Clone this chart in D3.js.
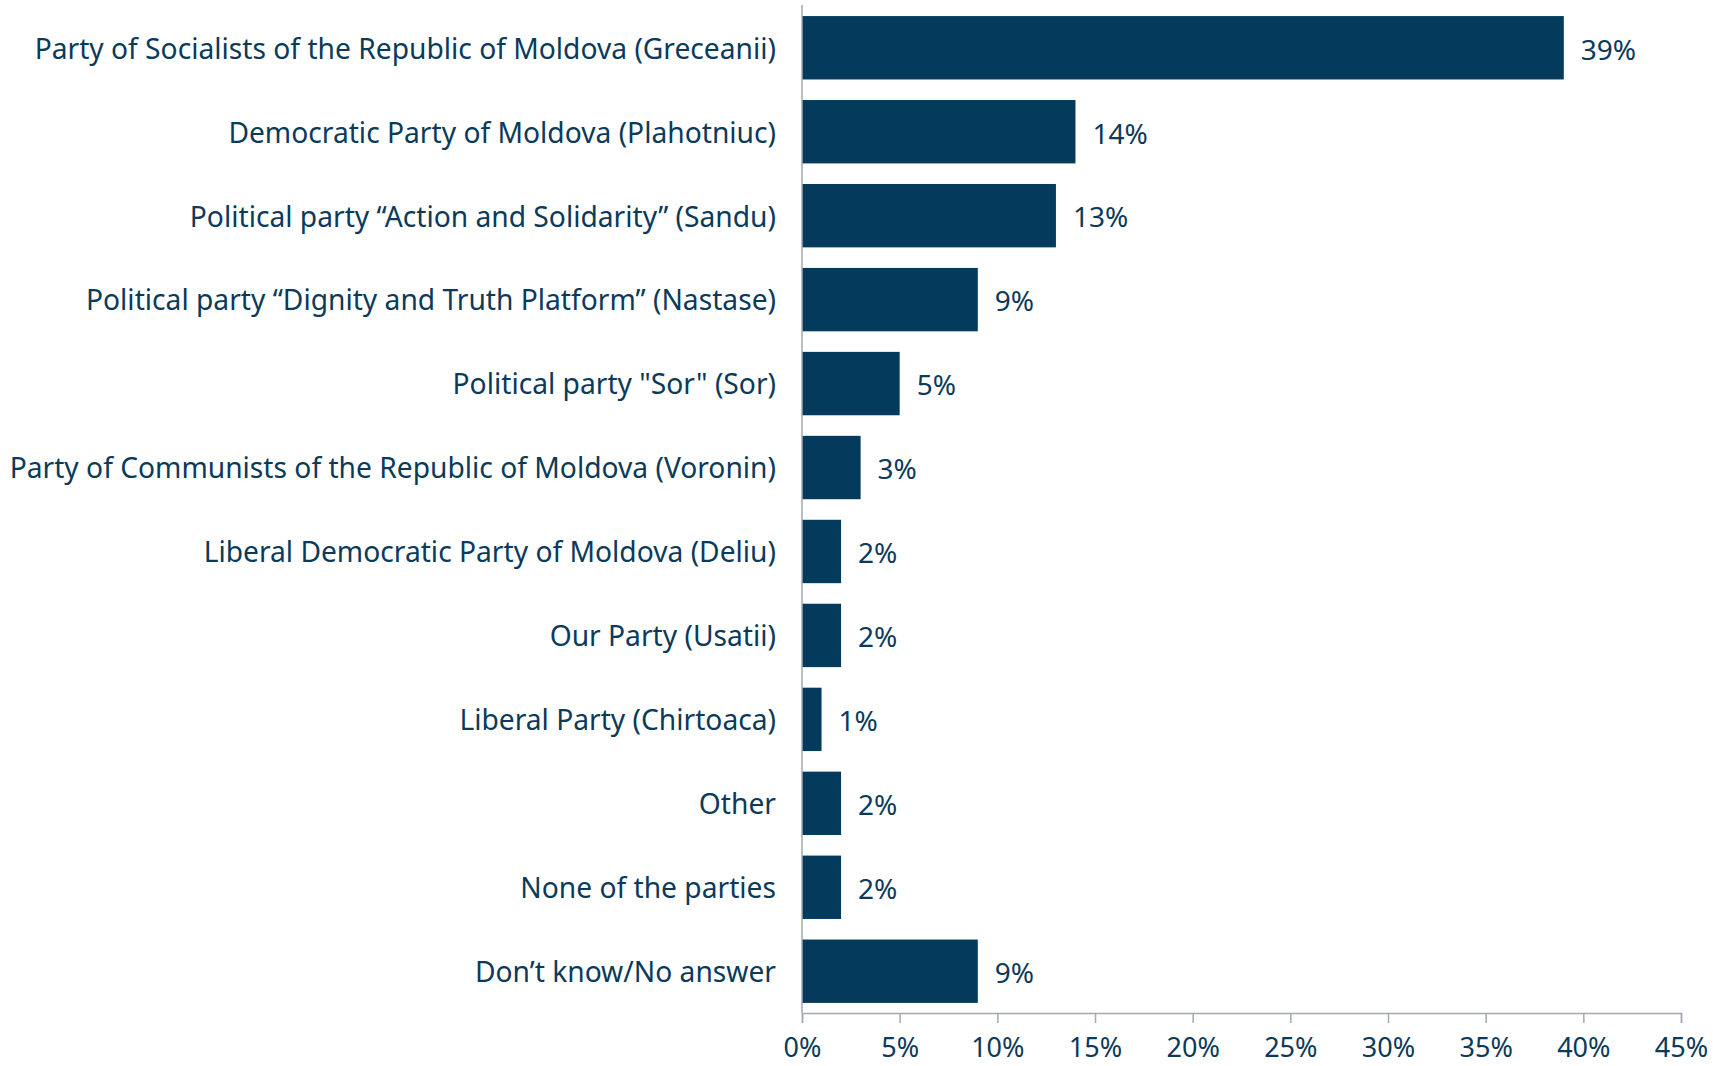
<!DOCTYPE html>
<html><head><meta charset="utf-8">
<script src="https://cdn.jsdelivr.net/npm/d3@7"></script>
<style>html,body{margin:0;padding:0;background:#fff;}</style>
</head><body>
<svg id="chart" width="1713" height="1066"></svg>
<script>
const categories = [
  "Party of Socialists of the Republic of Moldova (Greceanii)",
  "Democratic Party of Moldova (Plahotniuc)",
  "Political party \u201cAction and Solidarity\u201d (Sandu)",
  "Political party \u201cDignity and Truth Platform\u201d (Nastase)",
  "Political party \"Sor\" (Sor)",
  "Party of Communists of the Republic of Moldova (Voronin)",
  "Liberal Democratic Party of Moldova (Deliu)",
  "Our Party (Usatii)",
  "Liberal Party (Chirtoaca)",
  "Other",
  "None of the parties",
  "Don\u2019t know/No answer"
];
const values = [39, 14, 13, 9, 5, 3, 2, 2, 1, 2, 2, 9];
const ticks = [0, 5, 10, 15, 20, 25, 30, 35, 40, 45];

const color = "#043a5b";
const textColor = "#0b3a5a";
const font = "'Noto Sans', sans-serif";

const svg = d3.select("#chart");
const x = d3.scaleLinear().domain([0, 45]).range([802, 1681]);
const y = d3.scaleBand().domain(categories).range([6, 1013]).paddingInner(0.245).paddingOuter(0.12);

// bars
svg.append("g").selectAll("rect").data(values).join("rect")
  .attr("x", x(0)).attr("y", (d, i) => y(categories[i]))
  .attr("width", d => x(d) - x(0)).attr("height", y.bandwidth())
  .attr("fill", color);

// value labels
svg.append("g").selectAll("text").data(values).join("text")
  .attr("x", d => x(d) + 17).attr("y", (d, i) => y(categories[i]) + y.bandwidth() / 2 + 2)
  .attr("dy", "0.35em").attr("font-family", font).attr("font-size", 28)
  .attr("fill", textColor).text(d => d + "%");

// category labels
const catG = svg.append("g");
catG.selectAll("text").data(categories).join("text")
  .attr("x", 776).attr("y", d => y(d) + y.bandwidth() / 2 + 1)
  .attr("dy", "0.35em").attr("text-anchor", "end")
  .attr("font-family", font).attr("font-size", 28.2)
  .attr("fill", textColor).text(d => d);

// y axis line
svg.append("line").attr("x1", x(0)).attr("x2", x(0)).attr("y1", 5).attr("y2", 1013)
  .attr("stroke", "#a3a9b1").attr("stroke-width", 1.5);

// x axis
const xAxis = d3.axisBottom(x).tickValues(ticks).tickSize(10)
  .tickFormat(d => d + "%");
const gx = svg.append("g").attr("transform", "translate(0,1013)").call(xAxis);
gx.select(".domain").attr("stroke", "#a3a9b1").attr("stroke-width", 1.5);
gx.selectAll(".tick line").attr("stroke", "#a3a9b1").attr("stroke-width", 1.5);
gx.selectAll(".tick text").attr("font-family", font).attr("font-size", 27)
  .attr("fill", textColor).attr("y", 44).attr("dy", 0);
</script>
</body></html>
